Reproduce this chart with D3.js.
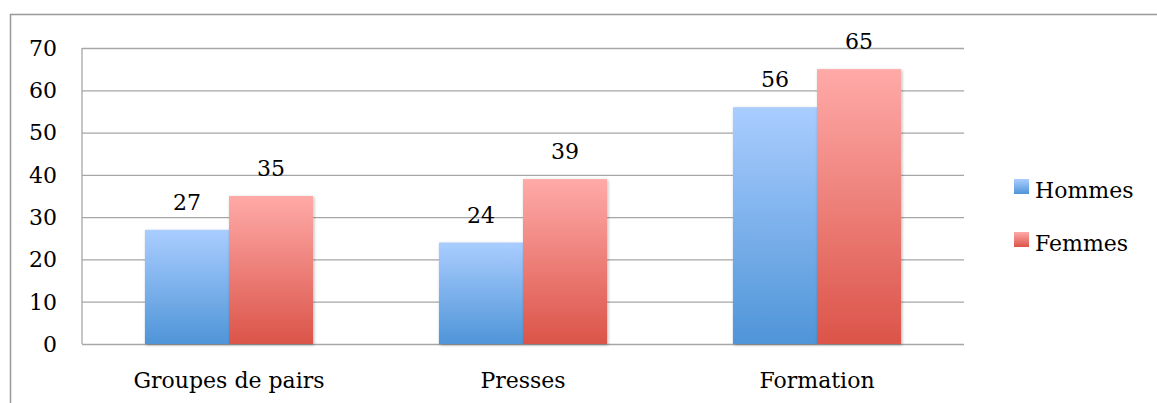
<!DOCTYPE html>
<html>
<head>
<meta charset="utf-8">
<script src="https://cdn.jsdelivr.net/npm/d3@7"></script>
<style>
  body { margin: 0; background: #fff; }
</style>
</head>
<body>
<svg id="chart" width="1157" height="403"></svg>
<script>
// data
const categories = ['Groupes de pairs', 'Presses', 'Formation'];
const seriesNames = ['Hommes', 'Femmes'];
const hommes = [27, 24, 56];
const femmes = [35, 39, 65];
const yTicks = [0, 10, 20, 30, 40, 50, 60, 70];

const width = 1157, height = 403;
const margin = { top: 48, right: 193, bottom: 59, left: 82 };
const innerWidth = width - margin.left - margin.right;
const innerHeight = height - margin.top - margin.bottom;
const font = "'DejaVu Serif', serif";
const fontSize = 22;

const svg = d3.select('#chart')
  .attr('font-family', font);

// gradients
const defs = svg.append('defs');
const grads = [
  { id: 'gradH', top: '#aacdff', bottom: '#4f95d8' },
  { id: 'gradF', top: '#ffaaa8', bottom: '#db5449' }
];
grads.forEach(g => {
  const lg = defs.append('linearGradient')
    .attr('id', g.id)
    .attr('x1', 0).attr('y1', 0).attr('x2', 0).attr('y2', 1);
  lg.append('stop').attr('offset', '0%').attr('stop-color', g.top);
  lg.append('stop').attr('offset', '100%').attr('stop-color', g.bottom);
});
defs.append('filter')
  .attr('id', 'shadow')
  .attr('x', '-10%').attr('y', '-10%').attr('width', '130%').attr('height', '130%')
  .append('feDropShadow')
  .attr('dx', 1).attr('dy', 1).attr('stdDeviation', 1.5)
  .attr('flood-color', '#000').attr('flood-opacity', 0.3);

// outer frame
svg.append('rect')
  .attr('x', 10.5).attr('y', 14.5)
  .attr('width', 1160).attr('height', 420)
  .attr('fill', 'none')
  .attr('stroke', '#999')
  .attr('stroke-width', 1.5);

const g = svg.append('g')
  .attr('transform', `translate(${margin.left},${margin.top})`);

const x0 = d3.scaleBand()
  .domain(categories)
  .range([0, innerWidth]);

const groupWidth = x0.bandwidth() * 0.572;
const x1 = d3.scaleBand()
  .domain(seriesNames)
  .range([(x0.bandwidth() - groupWidth) / 2, (x0.bandwidth() + groupWidth) / 2]);

const y = d3.scaleLinear()
  .domain([0, 70])
  .range([innerHeight, 0]);

// grid lines
g.append('g')
  .attr('class', 'grid')
  .call(d3.axisLeft(y)
    .tickValues(yTicks)
    .tickSize(-innerWidth)
    .tickFormat('')
  )
  .call(s => s.select('.domain').remove())
  .call(s => s.selectAll('line')
    .attr('stroke', '#a6a6a6')
    .attr('stroke-width', 1.3)
  );

// y axis line
g.append('line')
  .attr('x1', 0).attr('x2', 0)
  .attr('y1', 0).attr('y2', innerHeight)
  .attr('stroke', '#a6a6a6')
  .attr('stroke-width', 1.3);

// y tick labels
g.append('g')
  .selectAll('text')
  .data(yTicks)
  .enter()
  .append('text')
  .attr('x', -25)
  .attr('y', d => y(d))
  .attr('dy', '0.36em')
  .attr('text-anchor', 'end')
  .attr('font-size', fontSize)
  .text(d => d);

const rows = categories.map((c, i) => ({ cat: c, values: [hommes[i], femmes[i]] }));

const groups = g.selectAll('.group')
  .data(rows)
  .enter()
  .append('g')
  .attr('class', 'group')
  .attr('transform', d => `translate(${x0(d.cat)},0)`);

groups.selectAll('rect')
  .data(d => d.values.map((v, j) => ({ name: seriesNames[j], value: v, j })))
  .enter()
  .append('rect')
  .attr('x', d => x1(d.name))
  .attr('y', d => y(d.value))
  .attr('width', x1.bandwidth())
  .attr('height', d => innerHeight - y(d.value))
  .attr('fill', d => `url(#${grads[d.j].id})`)
  .attr('filter', 'url(#shadow)');

// value labels
groups.selectAll('.val')
  .data(d => d.values.map((v, j) => ({ name: seriesNames[j], value: v })))
  .enter()
  .append('text')
  .attr('class', 'val')
  .attr('x', d => x1(d.name) + x1.bandwidth() / 2)
  .attr('y', d => y(d.value) - 20)
  .attr('text-anchor', 'middle')
  .attr('font-size', fontSize)
  .text(d => d.value);

// category labels
g.append('g')
  .selectAll('text')
  .data(categories)
  .enter()
  .append('text')
  .attr('x', d => x0(d) + x0.bandwidth() / 2)
  .attr('y', innerHeight + 44)
  .attr('text-anchor', 'middle')
  .attr('font-size', fontSize)
  .text(d => d);

// legend
const legend = svg.append('g')
  .attr('transform', 'translate(1014,179)');

const items = legend.selectAll('g')
  .data(seriesNames)
  .enter()
  .append('g')
  .attr('transform', (d, i) => `translate(0,${i * 53})`);

items.append('rect')
  .attr('width', 15)
  .attr('height', 15)
  .attr('fill', (d, i) => `url(#${grads[i].id})`);

items.append('text')
  .attr('x', 21)
  .attr('y', 19)
  .attr('font-size', fontSize)
  .text(d => d);
</script>
</body>
</html>
